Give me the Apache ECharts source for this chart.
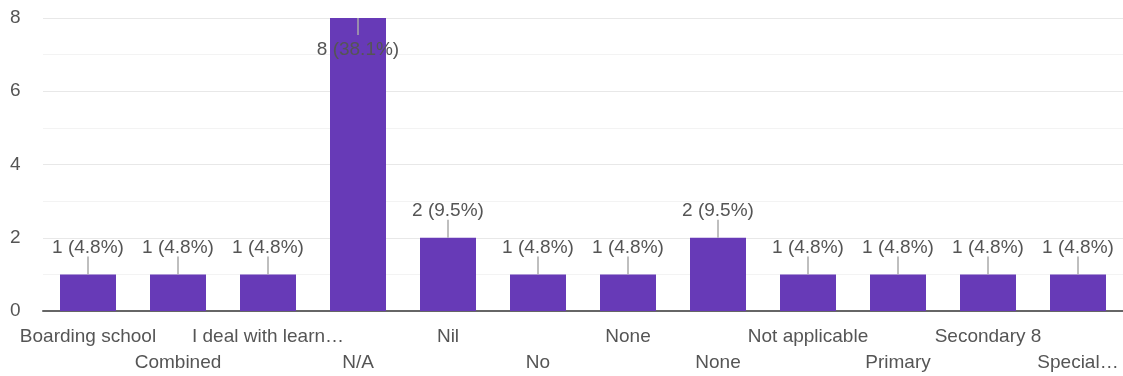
<!DOCTYPE html>
<html>
<head>
<meta charset="utf-8">
<script src="https://cdn.jsdelivr.net/npm/echarts@6/dist/echarts.min.js"></script>
<style>html,body{margin:0;padding:0;background:#fff;}#c{width:1123px;height:376px;}</style>
</head>
<body>
<div id="c"></div>
<script>
const categories = ['Boarding school','Combined','I deal with learn\u2026','N/A','Nil','No','None','None','Not applicable','Primary','Secondary 8','Special\u2026'];
const counts = [1,1,1,8,2,1,1,2,1,1,1,1];
const percents = ['4.8%','4.8%','4.8%','38.1%','9.5%','4.8%','4.8%','9.5%','4.8%','4.8%','4.8%','4.8%'];
const yTicks = [0,2,4,6,8];

const FONT = 'Arial, "Liberation Sans", sans-serif';
const chart = echarts.init(document.getElementById('c'), null, {renderer:'canvas'});
chart.setOption({
  animation:false,
  backgroundColor:'#fff',
  grid:{left:43, top:18, width:1084, bottom:64, containLabel:false},
  xAxis:{
    type:'category', data:categories,
    axisTick:{show:false},
    axisLine:{lineStyle:{color:'#666', width:2}},
    axisLabel:{
      interval:0, margin:13, color:'#555', fontSize:19, fontFamily:FONT, lineHeight:26,
      formatter:function(v, i){ return (i % 2 === 1 ? '\n' : '') + v; }
    }
  },
  yAxis:{
    type:'value', min:yTicks[0], max:yTicks[yTicks.length-1], interval:2,
    axisLine:{show:false}, axisTick:{show:false},
    axisLabel:{color:'#555', fontSize:19, fontFamily:FONT, margin:33, align:'left',
      formatter:function(v){ return yTicks.indexOf(v) >= 0 ? String(v) : ''; }},
    splitLine:{lineStyle:{color:'#e8e8e8', width:1}},
    minorTick:{show:false, splitNumber:2},
    minorSplitLine:{show:true, lineStyle:{color:'#f3f3f3', width:1}}
  },
  series:[
    {
      type:'bar', data:counts, barWidth:56,
      itemStyle:{color:'#673ab7'}, z:2
    },
    {
      type:'custom', z:5,
      data:counts.map(function(v,i){ return [i, v]; }),
      renderItem:function(params, api){
        const i = api.value(0), v = api.value(1);
        const p = api.coord([i, v]);
        const top = params.coordSys.y;
        const txt = v + ' (' + percents[i] + ')';
        let y1, yt;
        if (p[1] - 30 < top) { y1 = p[1] + 17; yt = p[1] + 32; }
        else { y1 = p[1] - 18; yt = p[1] - 27; }
        return {
          type:'group',
          children:[
            {type:'line', shape:{x1:p[0], y1:p[1], x2:p[0], y2:y1}, style:{stroke:'#aaa', lineWidth:1.5}},
            {type:'text', style:{text:txt, x:p[0], y:yt, align:'center', verticalAlign:'middle',
              fill:'#555', font:'19px ' + FONT}}
          ]
        };
      }
    }
  ]
});
</script>
</body>
</html>
